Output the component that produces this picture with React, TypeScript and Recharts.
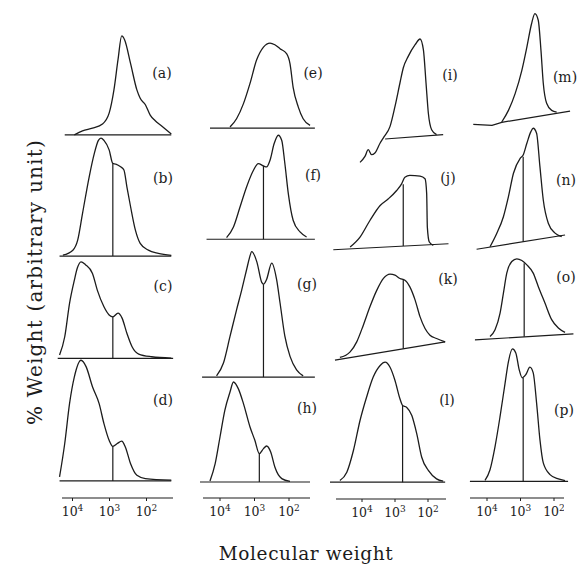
import React from 'react';
import { LineChart, Line, XAxis, YAxis } from 'recharts';

// x = log10(molecular weight), y = % weight (arbitrary, peak ~ 100)
type Pair = [number, number];

const curveA: Pair[] = [[3.95, 0], [3.73, 4], [3.46, 6.8], [3.19, 11], [3.01, 22], [2.88, 45.5], [2.77, 76], [2.67, 100], [2.59, 96], [2.43, 72], [2.26, 45.5], [2.17, 37], [2.03, 30.5], [1.9, 20], [1.77, 14.5], [1.59, 9], [1.33, 1]];
const baseA: Pair[] = [[4.21, 0], [1.33, 0]];

const curveB: Pair[] = [[4.26, 0.8], [3.99, 5], [3.86, 13.5], [3.73, 36], [3.55, 67], [3.41, 87], [3.3, 98], [3.23, 100], [3.15, 98], [3.01, 90], [2.91, 78.5], [2.83, 78], [2.7, 75.7], [2.61, 73], [2.53, 58.7], [2.43, 41.8], [2.3, 22], [2.17, 10.8], [1.95, 5], [1.68, 2.3], [1.33, 0.6]];
const baseB: Pair[] = [[4.35, 0], [1.33, 0]];
const splitB: Pair[] = [[2.91, 0], [2.91, 78.5]];

const curveC: Pair[] = [[4.35, 3.4], [4.21, 22.4], [4.08, 57], [3.95, 81], [3.87, 93.5], [3.77, 100], [3.65, 97], [3.46, 88], [3.33, 70.7], [3.15, 53.5], [3.01, 45], [2.91, 43], [2.77, 46.9], [2.66, 41.7], [2.53, 26], [2.39, 12.1], [2.21, 4.5], [1.86, 1.7], [1.33, 0.3]];
const baseC: Pair[] = [[4.4, 0], [1.28, 0]];
const splitC: Pair[] = [[2.91, 0], [2.91, 43]];

const curveD: Pair[] = [[4.35, 3.3], [4.21, 31], [4.08, 64], [3.95, 86.2], [3.77, 100], [3.63, 94.5], [3.46, 78], [3.28, 64], [3.15, 47.5], [3.01, 33.7], [2.91, 28.7], [2.79, 31], [2.67, 33], [2.57, 28], [2.43, 14.3], [2.26, 4.7], [2.03, 2], [1.33, 0.6]];
const baseD: Pair[] = [[4.35, 0], [1.33, 0]];
const splitD: Pair[] = [[2.91, 0], [2.91, 28.7]];

const curveE: Pair[] = [[3.71, 1.2], [3.52, 11], [3.32, 28.8], [3.13, 52.6], [2.94, 80], [2.74, 95.3], [2.55, 100], [2.41, 98], [2.26, 93.4], [2.07, 87.5], [1.97, 75.6], [1.88, 48], [1.73, 24.7], [1.59, 11], [1.39, 3.2]];
const baseE: Pair[] = [[4.29, 0], [1.25, 0]];

const curveF: Pair[] = [[3.81, 1.6], [3.61, 11.8], [3.42, 31], [3.23, 50.3], [3.03, 66.3], [2.89, 72.8], [2.74, 70.5], [2.65, 69.5], [2.55, 76], [2.43, 92], [2.31, 100], [2.21, 95], [2.12, 72.8], [2.02, 43.9], [1.88, 18.3], [1.68, 7], [1.49, 2.2]];
const baseF: Pair[] = [[4.39, 0], [1.25, 0]];
const splitF: Pair[] = [[2.74, 0], [2.74, 70.5]];

const curveG: Pair[] = [[4.1, 1], [3.9, 11.2], [3.71, 32.4], [3.52, 53.6], [3.37, 69.5], [3.23, 85.5], [3.15, 94.5], [3.08, 100], [2.93, 91.6], [2.79, 75.4], [2.74, 74], [2.65, 77.8], [2.5, 90.8], [2.36, 77.8], [2.26, 59.2], [2.12, 32.6], [1.97, 16.5], [1.78, 5.8], [1.59, 1]];
const baseG: Pair[] = [[4.52, 0], [1.25, 0]];
const splitG: Pair[] = [[2.74, 0], [2.74, 74]];

const curveH: Pair[] = [[4.29, 1], [4.14, 18.4], [4.0, 45], [3.86, 71.7], [3.71, 90], [3.61, 100], [3.47, 93.4], [3.32, 78.4], [3.13, 55], [2.99, 41.7], [2.86, 28.4], [2.74, 33.4], [2.65, 36], [2.53, 30], [2.41, 15], [2.21, 3.4], [1.97, 0.7]];
const baseH: Pair[] = [[4.58, 0], [1.39, 0]];
const splitH: Pair[] = [[2.86, 0], [2.86, 28.4]];

const curveI: Pair[] = [[4.06, -23.4], [3.91, -17.4], [3.81, -10.7], [3.71, -15.7], [3.61, -14], [3.45, -4], [3.33, 2.3], [3.15, 12.6], [3.0, 32.6], [2.85, 56], [2.75, 71], [2.6, 82.6], [2.39, 94.3], [2.24, 100], [2.14, 89.3], [2.06, 56], [1.99, 26], [1.89, 9.3], [1.74, 4.3]];
const baseI: Pair[] = [[3.3, 0], [1.54, 4.3]];

const curveJ: Pair[] = [[4.36, 3.6], [4.06, 17], [3.76, 39.4], [3.45, 59.6], [3.2, 68.6], [2.95, 79.8], [2.8, 88.7], [2.7, 97.7], [2.55, 100], [2.24, 99], [2.09, 95.5], [2.04, 75.4], [2.02, 30.5], [1.96, 10.4], [1.84, 5.8]];
const baseJ: Pair[] = [[4.87, 0], [1.38, 8.1]];
const splitJ: Pair[] = [[2.75, 4.9], [2.75, 88]];

const curveK: Pair[] = [[4.67, 3.1], [4.36, 9.6], [4.16, 21.3], [3.96, 40.7], [3.76, 62], [3.55, 81.4], [3.35, 95], [3.15, 100], [3.0, 98.8], [2.85, 95], [2.7, 93], [2.55, 85.2], [2.39, 69.8], [2.24, 50.3], [2.09, 36.8], [1.94, 29], [1.74, 25.2], [1.48, 21.3]];
const baseK: Pair[] = [[4.82, 0], [1.48, 21.3]];
const splitK: Pair[] = [[2.75, 13.3], [2.75, 93.8]];

const curveL: Pair[] = [[4.67, 1.4], [4.46, 8.3], [4.26, 26.4], [4.06, 51.4], [3.86, 71], [3.66, 87.6], [3.45, 97.3], [3.3, 100], [3.15, 95.8], [3.0, 84.8], [2.85, 69.5], [2.77, 64], [2.65, 62.5], [2.49, 55.6], [2.34, 40.3], [2.19, 20.8], [1.99, 9.8], [1.74, 2.8], [1.54, 0.8]];
const baseL: Pair[] = [[4.97, 0], [1.48, 0]];
const splitL: Pair[] = [[2.77, 0], [2.77, 64]];

const curveM: Pair[] = [[3.56, 2.1], [3.36, 12.6], [3.16, 27.7], [2.96, 48.8], [2.81, 69.8], [2.67, 90.9], [2.57, 100], [2.47, 94], [2.39, 67.3], [2.32, 37.1], [2.22, 19], [2.07, 12.6], [1.92, 11.1]];
const baseM: Pair[] = [[4.41, 0], [3.85, -1], [3.56, 1.8], [1.52, 12]];

const curveN: Pair[] = [[3.91, 2.1], [3.71, 13.1], [3.51, 26.9], [3.36, 43.5], [3.21, 62.8], [3.01, 75.2], [2.92, 77.9], [2.81, 87.6], [2.69, 97.2], [2.62, 100], [2.52, 95.9], [2.42, 68.3], [2.32, 40.7], [2.17, 21.5], [1.97, 13.3], [1.77, 10.5]];
const baseN: Pair[] = [[4.31, 0], [1.67, 11.8]];
const splitN: Pair[] = [[2.92, 6.2], [2.92, 76.5]];

const curveO: Pair[] = [[3.91, 3.2], [3.76, 11.6], [3.61, 32.4], [3.51, 57.3], [3.41, 82.2], [3.26, 96.6], [3.11, 100], [2.96, 97.9], [2.81, 92.5], [2.62, 82.2], [2.47, 65.6], [2.27, 44.9], [2.07, 24.2], [1.87, 13.8], [1.67, 8.3]];
const baseO: Pair[] = [[4.36, -1], [1.42, 6.6]];
const splitO: Pair[] = [[2.89, 3], [2.89, 94.6]];

const curveP: Pair[] = [[4.06, 0.8], [3.91, 8.8], [3.76, 26.3], [3.61, 49], [3.46, 74.2], [3.36, 90.5], [3.24, 100], [3.14, 97], [3.04, 84.4], [2.95, 78.2], [2.84, 80.7], [2.72, 86.2], [2.62, 81.9], [2.52, 59.3], [2.42, 31.5], [2.32, 13.9], [2.12, 5.1], [1.87, 1.8], [1.67, 0.5]];
const baseP: Pair[] = [[4.51, 0], [1.58, 0]];
const splitP: Pair[] = [[2.92, 0], [2.92, 78]];

const tickExps = [4, 3, 2];

// layout
const COLS = [
  { L: 57, R: 176, p4: 72.5, dec: 37, AL: 62, AR: 173, axisY: 498 },
  { L: 199, R: 316, p4: 220, dec: 34.5, AL: 203, AR: 310, axisY: 498 },
  { L: 330, R: 450, p4: 362, dec: 33, AL: 336, AR: 446, axisY: 499 },
  { L: 468, R: 576, p4: 487, dec: 33.5, AL: 470, AR: 564, axisY: 498 },
];

const PANELS = [
  { name: '(a)', col: 0, yb: 135, h: 99, curve: curveA, base: baseA, lx: 162, ly: 73 },
  { name: '(b)', col: 0, yb: 256, h: 118, curve: curveB, base: baseB, split: splitB, lx: 163, ly: 178 },
  { name: '(c)', col: 0, yb: 358.3, h: 96.6, curve: curveC, base: baseC, split: splitC, lx: 163, ly: 286 },
  { name: '(d)', col: 0, yb: 480.7, h: 120.7, curve: curveD, base: baseD, split: splitD, lx: 163, ly: 400 },
  { name: '(e)', col: 1, yb: 127.7, h: 85, curve: curveE, base: baseE, lx: 313, ly: 73 },
  { name: '(f)', col: 1, yb: 239, h: 104, curve: curveF, base: baseF, split: splitF, lx: 313, ly: 175 },
  { name: '(g)', col: 1, yb: 377.3, h: 125.6, curve: curveG, base: baseG, split: splitG, lx: 307, ly: 284 },
  { name: '(h)', col: 1, yb: 481.7, h: 100, curve: curveH, base: baseH, split: splitH, lx: 307, ly: 408 },
  { name: '(i)', col: 2, yb: 139.3, h: 100, lo: -28, curve: curveI, base: baseI, lx: 450, ly: 75 },
  { name: '(j)', col: 2, yb: 249.3, h: 74.3, curve: curveJ, base: baseJ, split: splitJ, lx: 448, ly: 178 },
  { name: '(k)', col: 2, yb: 360, h: 86, curve: curveK, base: baseK, split: splitK, lx: 448, ly: 279 },
  { name: '(l)', col: 2, yb: 481.7, h: 120, curve: curveL, base: baseL, split: splitL, lx: 447, ly: 400 },
  { name: '(m)', col: 3, yb: 124, h: 110.7, lo: -6, curve: curveM, base: baseM, lx: 565, ly: 77 },
  { name: '(n)', col: 3, yb: 249.3, h: 121, curve: curveN, base: baseN, split: splitN, lx: 566, ly: 180 },
  { name: '(o)', col: 3, yb: 339.3, h: 80.3, lo: -5, curve: curveO, base: baseO, split: splitO, lx: 566, ly: 277 },
  { name: '(p)', col: 3, yb: 481.7, h: 132.4, curve: curveP, base: baseP, split: splitP, lx: 564, ly: 410 },
];

const INK = '#1c1c1c';
const SERIF = '"DejaVu Serif", "Liberation Serif", serif';

const pts = (arr: Pair[]) => arr.map(([x, y]) => ({ x, y }));

function domainFor(c: typeof COLS[number], left: number, right: number): [number, number] {
  const hiLog = 4 + (c.p4 - left) / c.dec;
  const loLog = 4 - (right - c.p4) / c.dec;
  return [loLog, hiLog];
}

function Panel({ p }: { p: typeof PANELS[number] }) {
  const c = COLS[p.col];
  const lo = (p as any).lo ?? -3;
  const hi = 106;
  const top = p.yb - (p.h * hi) / 100;
  const height = (p.h * (hi - lo)) / 100;
  const split = (p as any).split as Pair[] | undefined;
  return (
    <div style={{ position: 'absolute', left: c.L, top }}>
      <LineChart width={c.R - c.L} height={height} margin={{ top: 0, right: 0, bottom: 0, left: 0 }}>
        <XAxis type="number" dataKey="x" domain={domainFor(c, c.L, c.R)} reversed hide allowDataOverflow />
        <YAxis type="number" dataKey="y" domain={[lo, hi]} hide allowDataOverflow />
        <Line data={pts(p.base)} dataKey="y" type="linear" stroke={INK} strokeWidth={1.2} dot={false} isAnimationActive={false} />
        <Line data={pts(p.curve)} dataKey="y" type="monotone" stroke={INK} strokeWidth={1.3} dot={false} isAnimationActive={false} />
        {split && (
          <Line data={pts(split)} dataKey="y" type="linear" stroke={INK} strokeWidth={1.2} dot={false} isAnimationActive={false} />
        )}
      </LineChart>
    </div>
  );
}

function PowerTick(props: any) {
  const { x, y, payload } = props;
  return (
    <text x={x} y={y} textAnchor="middle" fontFamily={SERIF} fontSize={12.5} fill={INK}>
      <tspan dy={15}>10</tspan>
      <tspan dy={-5} fontSize={9}>{payload.value}</tspan>
    </text>
  );
}

function AxisStrip({ c }: { c: typeof COLS[number] }) {
  return (
    <div style={{ position: 'absolute', left: c.AL, top: c.axisY - 8 }}>
      <LineChart width={c.AR - c.AL} height={40} data={tickExps.map((t) => ({ x: t }))} margin={{ top: 0, right: 0, bottom: 0, left: 0 }}>
        <XAxis
          type="number"
          dataKey="x"
          domain={domainFor(c, c.AL, c.AR)}
          reversed
          allowDataOverflow
          ticks={tickExps}
          interval={0}
          tick={PowerTick}
          tickSize={3}
          tickMargin={0}
          height={32}
          axisLine={{ stroke: INK, strokeWidth: 1.2 }}
          tickLine={{ stroke: INK }}
        />
        <YAxis hide />
      </LineChart>
    </div>
  );
}

export default function App() {
  return (
    <div style={{ position: 'absolute', left: 0, top: 0, width: 582, height: 566, background: '#fff', fontFamily: SERIF, color: INK }}>
      {PANELS.map((p) => (
        <Panel key={p.name} p={p} />
      ))}
      {PANELS.map((p) => (
        <div
          key={p.name + 'l'}
          style={{ position: 'absolute', left: p.lx, top: p.ly, transform: 'translate(-50%, -50%)', fontSize: 14, whiteSpace: 'nowrap' }}
        >
          {p.name}
        </div>
      ))}
      {COLS.map((c, i) => (
        <AxisStrip key={i} c={c} />
      ))}
      <div
        style={{ position: 'absolute', left: 35, top: 282, transform: 'translate(-50%, -50%) rotate(-90deg)', fontSize: 20, letterSpacing: 1.2, whiteSpace: 'nowrap' }}
      >
        % Weight (arbitrary unit)
      </div>
      <div style={{ position: 'absolute', left: 306, top: 553, transform: 'translate(-50%, -50%)', fontSize: 18.5, letterSpacing: 0.6, whiteSpace: 'nowrap' }}>
        Molecular weight
      </div>
    </div>
  );
}
